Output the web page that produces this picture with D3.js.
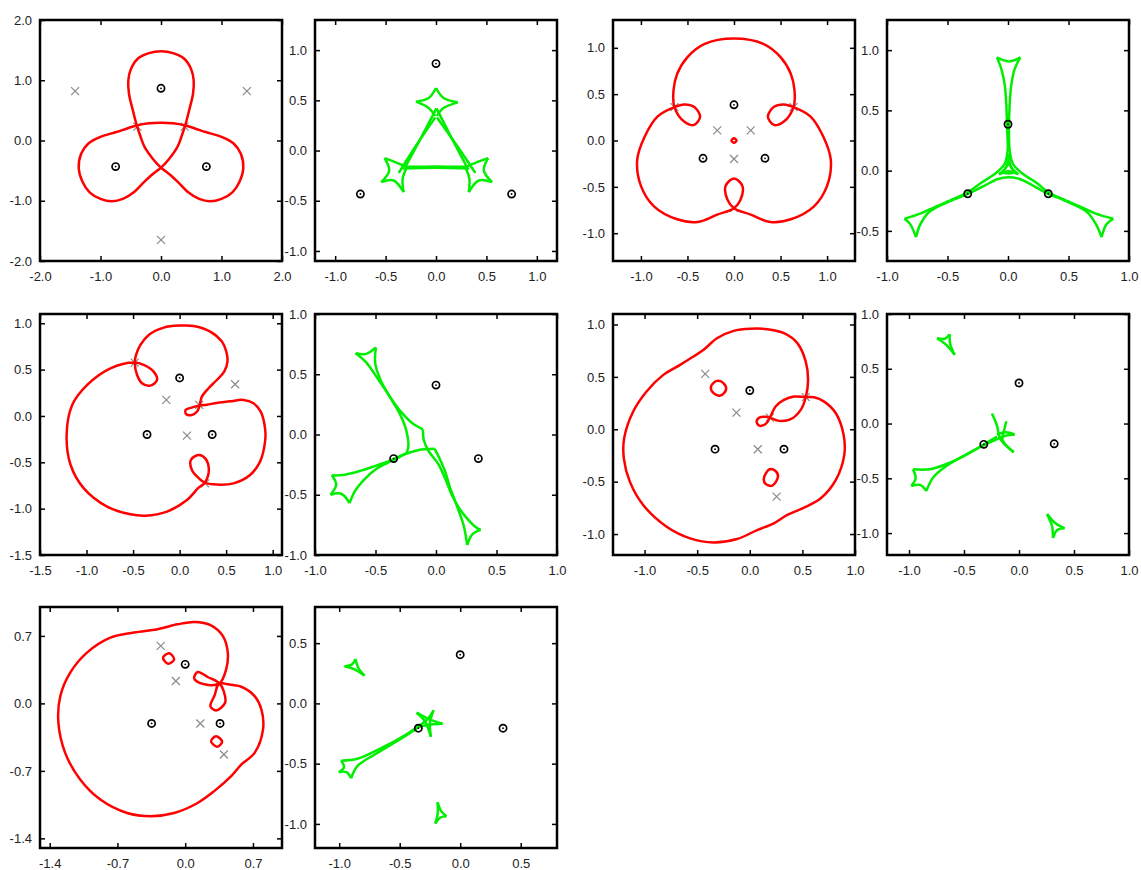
<!DOCTYPE html>
<html>
<head>
<meta charset="utf-8">
<title>Triple lens: critical curves and caustics</title>
<script src="https://d3js.org/d3.v7.min.js"></script>
<style>
  body { margin: 0; background: #fff; }
</style>
</head>
<body>
<script>
// tick values
var ticksWide = [-2, -1, 0, 1, 2];
var ticksHalf = [-1, -0.5, 0, 0.5, 1];
var ticksFrom15 = [-1.5, -1, -0.5, 0, 0.5, 1];
var ticksUpper = [-0.5, 0, 0.5, 1];
var ticksSeven = [-1.4, -0.7, 0, 0.7];
var ticksLower = [-1, -0.5, 0, 0.5];

// ---- row 1, config A ----
var p1Lenses = [[0, 0.866], [-0.75, -0.433], [0.75, -0.433]];
var p1Crosses = [[-1.42, 0.82], [1.42, 0.82], [0, -1.65], [-0.39, 0.23], [0.39, 0.23], [0, -0.45]];
var p1Critical = [[
  [0, 1.48], [0.2, 1.45], [0.38, 1.36], [0.5, 1.18], [0.54, 1.0], [0.53, 0.78], [0.47, 0.52], [0.4, 0.25],
  [0.34, 0.07], [0.27, -0.11], [0.13, -0.31], [0, -0.45], [-0.14, -0.56], [-0.28, -0.69], [-0.45, -0.86],
  [-0.63, -0.97], [-0.81, -1.01], [-1.0, -0.97], [-1.18, -0.86], [-1.3, -0.68], [-1.36, -0.46], [-1.32, -0.22],
  [-1.2, -0.05], [-1.0, 0.06], [-0.74, 0.14], [-0.56, 0.2], [-0.4, 0.25], [-0.2, 0.285], [0, 0.295],
  [0.2, 0.285], [0.4, 0.25], [0.56, 0.2], [0.74, 0.14], [1.0, 0.06], [1.2, -0.05], [1.32, -0.22], [1.36, -0.46],
  [1.3, -0.68], [1.18, -0.86], [1.0, -0.97], [0.81, -1.01], [0.63, -0.97], [0.45, -0.86], [0.28, -0.69],
  [0.14, -0.56], [0, -0.45], [-0.13, -0.31], [-0.27, -0.11], [-0.34, 0.07], [-0.4, 0.25], [-0.47, 0.52],
  [-0.53, 0.78], [-0.54, 1.0], [-0.5, 1.18], [-0.38, 1.36], [-0.2, 1.45]
]];
var p2Lenses = [[0, 0.866], [-0.75, -0.433], [0.75, -0.433]];
var p2Caustic = [
  [[0, 0.623], [-0.073, 0.523], [-0.199, 0.487]],
  [[0, 0.623], [0.076, 0.523], [0.215, 0.48]],
  [[-0.199, 0.487], [-0.073, 0.424], [-0.007, 0.345]],
  [[0.215, 0.48], [0.07, 0.42], [0.01, 0.345]],
  [[0.005, 0.42], [-0.15, 0.125], [-0.305, -0.166]],
  [[-0.007, 0.33], [-0.19, 0.06], [-0.37, -0.222]],
  [[0.005, 0.42], [0.155, 0.125], [0.308, -0.166]],
  [[0.01, 0.33], [0.2, 0.06], [0.39, -0.222]],
  [[-0.305, -0.162], [0, -0.16], [0.308, -0.162]],
  [[-0.33, -0.178], [0, -0.172], [0.33, -0.178]],
  [[-0.51, -0.076], [-0.464, -0.199], [-0.543, -0.315]],
  [[-0.543, -0.315], [-0.42, -0.298], [-0.321, -0.414]],
  [[-0.321, -0.414], [-0.331, -0.281], [-0.288, -0.166]],
  [[-0.288, -0.166], [-0.404, -0.116], [-0.51, -0.076]],
  [[0.517, -0.076], [0.474, -0.199], [0.556, -0.315]],
  [[0.556, -0.315], [0.424, -0.298], [0.325, -0.414]],
  [[0.325, -0.414], [0.331, -0.281], [0.291, -0.166]],
  [[0.291, -0.166], [0.407, -0.116], [0.517, -0.076]]
];

// ---- row 1, config B ----
var p3Lenses = [[0, 0.385], [-0.333, -0.192], [0.333, -0.192]];
var p3Crosses = [[-0.18, 0.11], [0.18, 0.11], [0, -0.2], [-0.64, 0.36], [0.64, 0.36], [0, -0.73]];
var p3Critical = [[
  [-0.64, 0.36], [-0.65, 0.54], [-0.61, 0.72], [-0.5, 0.9], [-0.32, 1.04], [0, 1.1], [0.32, 1.04], [0.5, 0.9],
  [0.61, 0.72], [0.65, 0.54], [0.64, 0.36], [0.536, 0.204], [0.43, 0.168], [0.364, 0.257], [0.43, 0.364],
  [0.536, 0.389], [0.64, 0.36], [0.82, 0.26], [0.96, 0.04], [1.04, -0.21], [1.0, -0.49], [0.86, -0.71],
  [0.61, -0.85], [0.39, -0.88], [0.18, -0.8], [0, -0.73], [-0.07, -0.64], [-0.09, -0.49], [0, -0.41],
  [0.09, -0.49], [0.07, -0.64], [0, -0.73], [-0.18, -0.8], [-0.39, -0.88], [-0.61, -0.85], [-0.86, -0.71],
  [-1.0, -0.49], [-1.04, -0.21], [-0.96, 0.04], [-0.82, 0.26], [-0.64, 0.36], [-0.536, 0.389], [-0.43, 0.364],
  [-0.364, 0.257], [-0.43, 0.168], [-0.536, 0.204]
], [
  [0, 0.025], [0.027, 0], [0, -0.025], [-0.027, 0]
]];
var p4Lenses = [[0, 0.385], [-0.333, -0.192], [0.333, -0.192]];
var p4Caustic = [
  [[-0.091, 0.939], [0.006, 0.906], [0.102, 0.939]],
  [[0.102, 0.939], [0.055, 0.843], [0.028, 0.718], [0.014, 0.552], [0.008, 0.359], [0.014, 0.166], [0.041, 0.055],
   [0.124, -0.028], [0.235, -0.1], [0.337, -0.182], [0.45, -0.235], [0.6, -0.3], [0.72, -0.355], [0.87, -0.4]],
  [[0.87, -0.4], [0.815, -0.442], [0.773, -0.552]],
  [[0.773, -0.552], [0.73, -0.45], [0.66, -0.35], [0.6, -0.31], [0.45, -0.24], [0.337, -0.195], [0.207, -0.124],
   [0.097, -0.069], [0.006, -0.055], [-0.083, -0.069], [-0.193, -0.124], [-0.337, -0.195], [-0.45, -0.24],
   [-0.6, -0.31], [-0.66, -0.35], [-0.727, -0.45], [-0.76, -0.552]],
  [[-0.76, -0.552], [-0.81, -0.442], [-0.856, -0.4]],
  [[-0.856, -0.4], [-0.72, -0.355], [-0.6, -0.3], [-0.45, -0.235], [-0.337, -0.182], [-0.221, -0.1], [-0.11, -0.028],
   [-0.028, 0.055], [-0.003, 0.166], [-0.008, 0.359], [-0.014, 0.552], [-0.028, 0.718], [-0.055, 0.843], [-0.091, 0.939]],
  [[0.006, 0.14], [-0.015, 0.03], [-0.075, -0.03]],
  [[-0.075, -0.03], [0.006, -0.005], [0.085, -0.03]],
  [[0.085, -0.03], [0.025, 0.03], [0.006, 0.14]],
  [[0.006, 0.06], [-0.035, -0.015], [0.045, -0.015], [0.006, 0.06]]
];

// ---- row 2, config C ----
var p5Lenses = [[0, 0.41], [-0.35, -0.2], [0.35, -0.2]];
var p5Crosses = [[-0.482, 0.576], [-0.143, 0.173], [0.596, 0.342], [0.211, 0.119], [0.079, -0.212], [0.275, -0.727]];
var p5Critical = [[
  [-0.482, 0.576], [-0.743, 0.514], [-0.993, 0.335], [-1.154, 0.119], [-1.214, -0.205], [-1.171, -0.529],
  [-1.029, -0.781], [-0.779, -0.978], [-0.529, -1.061], [-0.368, -1.076], [-0.136, -1.032], [0.079, -0.906],
  [0.204, -0.773], [0.27, -0.72], [0.314, -0.583], [0.275, -0.457], [0.204, -0.421], [0.121, -0.475],
  [0.132, -0.583], [0.21, -0.675], [0.27, -0.72], [0.4, -0.74], [0.579, -0.727], [0.757, -0.637],
  [0.864, -0.493], [0.918, -0.277], [0.918, -0.133], [0.871, 0.047], [0.793, 0.137], [0.686, 0.173],
  [0.543, 0.158], [0.4, 0.14], [0.293, 0.122], [0.214, 0.112], [0.13, 0.09], [0.065, 0.065], [0.07, 0.02],
  [0.13, 0.01], [0.19, 0.05], [0.214, 0.112], [0.239, 0.209], [0.311, 0.299], [0.4, 0.388], [0.479, 0.478],
  [0.514, 0.586], [0.5, 0.7], [0.454, 0.802], [0.329, 0.91], [0.15, 0.971], [0, 0.975], [-0.171, 0.953],
  [-0.332, 0.874], [-0.421, 0.766], [-0.468, 0.658], [-0.482, 0.576], [-0.457, 0.442], [-0.404, 0.353],
  [-0.314, 0.327], [-0.243, 0.388], [-0.279, 0.478], [-0.386, 0.55]
]];
var p6Lenses = [[0, 0.41], [-0.35, -0.2], [0.35, -0.2]];
var p6Caustic = [
  [[-0.664, 0.675], [-0.583, 0.667], [-0.497, 0.722]],
  [[-0.664, 0.675], [-0.575, 0.597], [-0.478, 0.458], [-0.394, 0.333], [-0.353, 0.264], [-0.297, 0.167],
   [-0.256, 0.069], [-0.233, -0.028], [-0.228, -0.097], [-0.242, -0.153]],
  [[-0.242, -0.153], [-0.3, -0.185], [-0.4, -0.235], [-0.5, -0.29], [-0.6, -0.38], [-0.67, -0.47], [-0.714, -0.569]],
  [[-0.714, -0.569], [-0.783, -0.492], [-0.872, -0.5]],
  [[-0.872, -0.5], [-0.825, -0.417], [-0.861, -0.339]],
  [[-0.861, -0.339], [-0.76, -0.335], [-0.62, -0.3], [-0.5, -0.26], [-0.4, -0.225], [-0.3, -0.18],
   [-0.15, -0.13], [-0.011, -0.119]],
  [[-0.011, -0.119], [0.03, -0.2], [0.08, -0.32], [0.115, -0.44], [0.15, -0.53], [0.19, -0.64], [0.23, -0.76], [0.258, -0.917]],
  [[0.258, -0.917], [0.3, -0.828], [0.369, -0.792]],
  [[0.369, -0.792], [0.33, -0.77], [0.26, -0.7], [0.19, -0.61], [0.13, -0.5], [0.09, -0.4], [0.022, -0.25],
   [-0.06, -0.139], [-0.1, -0.05], [-0.108, 0.042]],
  [[-0.108, 0.042], [-0.2, 0.097], [-0.283, 0.181], [-0.347, 0.264], [-0.394, 0.333], [-0.461, 0.458],
   [-0.503, 0.597], [-0.497, 0.722]]
];

// ---- row 2, config D ----
var p7Lenses = [[0, 0.37], [-0.33, -0.19], [0.325, -0.19]];
var p7Crosses = [[-0.424, 0.529], [-0.127, 0.159], [0.076, -0.191], [0.255, -0.643], [0.532, 0.306], [0.191, 0.111]];
var p7Critical = [[
  [0.532, 0.306], [0.554, 0.471], [0.532, 0.646], [0.452, 0.822], [0.325, 0.917], [0.166, 0.955], [0.006, 0.959],
  [-0.153, 0.939], [-0.312, 0.869], [-0.439, 0.758], [-0.535, 0.694], [-0.662, 0.615], [-0.822, 0.519],
  [-0.981, 0.36], [-1.108, 0.169], [-1.194, -0.086], [-1.197, -0.277], [-1.14, -0.5], [-1.013, -0.723],
  [-0.79, -0.93], [-0.567, -1.041], [-0.344, -1.08], [-0.121, -1.048], [0.07, -0.962], [0.229, -0.898],
  [0.357, -0.818], [0.516, -0.748], [0.675, -0.659], [0.818, -0.484], [0.898, -0.245], [0.892, -0.054],
  [0.818, 0.153], [0.707, 0.264], [0.611, 0.305], [0.532, 0.306], [0.42, 0.312], [0.325, 0.28], [0.245, 0.217],
  [0.191, 0.111], [0.15, 0.05], [0.09, 0.035], [0.065, 0.075], [0.1, 0.115], [0.15, 0.12], [0.191, 0.111],
  [0.277, 0.08], [0.389, 0.096], [0.484, 0.185]
], [
  [-0.312, 0.462], [-0.248, 0.439], [-0.226, 0.376], [-0.28, 0.322], [-0.344, 0.344], [-0.369, 0.408]
], [
  [0.188, -0.382], [0.245, -0.398], [0.268, -0.452], [0.213, -0.538], [0.15, -0.522], [0.134, -0.468]
]];
var p8Lenses = [[0, 0.37], [-0.32, -0.19], [0.32, -0.185]];
var p8Caustic = [
  [[-0.745, 0.779], [-0.674, 0.774], [-0.63, 0.815]],
  [[-0.63, 0.815], [-0.626, 0.729], [-0.585, 0.627]],
  [[-0.585, 0.627], [-0.661, 0.718], [-0.745, 0.779]],
  [[0.255, -0.827], [0.332, -0.911], [0.415, -0.955]],
  [[0.415, -0.955], [0.348, -0.972], [0.309, -1.045]],
  [[0.309, -1.045], [0.3, -0.936], [0.255, -0.827]],
  [[-0.246, 0.091], [-0.2, -0.02], [-0.17, -0.14], [-0.048, -0.262]],
  [[-0.115, 0.021], [-0.135, -0.06], [-0.15, -0.15], [-0.048, -0.262]],
  [[-0.2, -0.1], [-0.12, -0.08], [-0.04, -0.1]],
  [[-0.19, -0.14], [-0.12, -0.11], [-0.04, -0.1]],
  [[-0.964, -0.418], [-0.812, -0.418], [-0.63, -0.358], [-0.448, -0.267], [-0.321, -0.191], [-0.2, -0.12]],
  [[-0.842, -0.615], [-0.782, -0.494], [-0.661, -0.388], [-0.479, -0.282], [-0.321, -0.197], [-0.19, -0.14]],
  [[-0.964, -0.418], [-0.94, -0.5], [-0.979, -0.57]],
  [[-0.979, -0.57], [-0.9, -0.56], [-0.842, -0.615]]
];

// ---- row 3, config E ----
var p9Lenses = [[0, 0.405], [-0.347, -0.208], [0.36, -0.208]];
var p9Crosses = [[-0.253, 0.596], [-0.097, 0.232], [0.156, -0.208], [0.4, -0.53], [0.353, 0.208]];
var p9Critical = [[
  [0.353, 0.208], [0.423, 0.353], [0.44, 0.527], [0.388, 0.7], [0.267, 0.81], [0.094, 0.845], [-0.08, 0.82],
  [-0.287, 0.77], [-0.53, 0.735], [-0.773, 0.683], [-1.015, 0.527], [-1.188, 0.319], [-1.29, 0.076],
  [-1.31, -0.2], [-1.24, -0.513], [-1.085, -0.79], [-0.877, -0.998], [-0.6, -1.137], [-0.357, -1.17],
  [-0.114, -1.137], [0.128, -1.033], [0.3, -0.91], [0.475, -0.755], [0.579, -0.634], [0.717, -0.513],
  [0.804, -0.27], [0.787, -0.062], [0.717, 0.076], [0.579, 0.173], [0.44, 0.198], [0.353, 0.208],
  [0.301, 0.076], [0.26, -0.028], [0.319, -0.073], [0.412, 0.007], [0.398, 0.128], [0.353, 0.208],
  [0.232, 0.274], [0.128, 0.326], [0.094, 0.256], [0.197, 0.198]
], [
  [-0.166, 0.52], [-0.114, 0.457], [-0.177, 0.412], [-0.229, 0.475]
], [
  [0.319, -0.34], [0.381, -0.398], [0.329, -0.45], [0.267, -0.392]
]];
var p10Lenses = [[0, 0.404], [-0.346, -0.206], [0.354, -0.206]];
var p10Caustic = [
  [[-0.956, 0.308], [-0.894, 0.324], [-0.865, 0.368]],
  [[-0.865, 0.368], [-0.845, 0.3], [-0.791, 0.231]],
  [[-0.791, 0.231], [-0.873, 0.283], [-0.956, 0.308]],
  [[-0.187, -0.819], [-0.157, -0.894], [-0.113, -0.937]],
  [[-0.113, -0.937], [-0.163, -0.947], [-0.206, -0.997]],
  [[-0.206, -0.997], [-0.186, -0.912], [-0.187, -0.819]],
  [[-0.36, -0.077], [-0.29, -0.15], [-0.242, -0.277]],
  [[-0.22, -0.058], [-0.25, -0.16], [-0.242, -0.277]],
  [[-0.22, -0.058], [-0.27, -0.13], [-0.36, -0.2]],
  [[-0.36, -0.077], [-0.26, -0.13], [-0.146, -0.168]],
  [[-0.36, -0.2], [-0.25, -0.175], [-0.146, -0.168]],
  [[-0.984, -0.475], [-0.85, -0.46], [-0.65, -0.37], [-0.45, -0.26], [-0.36, -0.2]],
  [[-0.901, -0.621], [-0.85, -0.52], [-0.7, -0.42], [-0.5, -0.3], [-0.36, -0.21]],
  [[-0.984, -0.475], [-0.96, -0.53], [-1.003, -0.571]],
  [[-1.003, -0.571], [-0.94, -0.57], [-0.901, -0.621]]
];

// panel layout
var W = 242, H = 241;
var panels = [
  {left: 40, top: 20, xDom: [-2, 2], yDom: [-2, 2], xTicks: ticksWide, yTicks: ticksWide,
   lenses: p1Lenses, crosses: p1Crosses, closed: p1Critical},
  {left: 315, top: 20, xDom: [-1.2, 1.2], yDom: [-1.1, 1.3], xTicks: ticksHalf, yTicks: ticksHalf,
   lenses: p2Lenses, open: p2Caustic},
  {left: 613, top: 20, xDom: [-1.3, 1.3], yDom: [-1.3, 1.3], xTicks: ticksHalf, yTicks: ticksHalf,
   lenses: p3Lenses, crosses: p3Crosses, closed: p3Critical},
  {left: 887, top: 20, xDom: [-1, 1], yDom: [-0.75, 1.25], xTicks: ticksHalf, yTicks: ticksUpper,
   lenses: p4Lenses, open: p4Caustic},
  {left: 40, top: 314, xDom: [-1.5, 1.1], yDom: [-1.5, 1.1], xTicks: ticksFrom15, yTicks: ticksFrom15,
   lenses: p5Lenses, crosses: p5Crosses, closed: p5Critical},
  {left: 315, top: 314, xDom: [-1, 1], yDom: [-1, 1], xTicks: ticksHalf, yTicks: ticksHalf,
   lenses: p6Lenses, open: p6Caustic},
  {left: 613, top: 314, xDom: [-1.3, 1.0], yDom: [-1.2, 1.1], xTicks: ticksHalf, yTicks: ticksHalf,
   lenses: p7Lenses, crosses: p7Crosses, closed: p7Critical},
  {left: 887, top: 314, xDom: [-1.2, 1.0], yDom: [-1.2, 1.0], xTicks: ticksHalf, yTicks: ticksHalf,
   lenses: p8Lenses, open: p8Caustic},
  {left: 40, top: 607, xDom: [-1.5, 1.0], yDom: [-1.5, 1.0], xTicks: ticksSeven, yTicks: ticksSeven,
   lenses: p9Lenses, crosses: p9Crosses, closed: p9Critical},
  {left: 315, top: 607, xDom: [-1.2, 0.8], yDom: [-1.2, 0.8], xTicks: ticksLower, yTicks: ticksLower,
   lenses: p10Lenses, open: p10Caustic}
];

var svg = d3.select("body").append("svg")
  .attr("width", 1141)
  .attr("height", 870);

var fmt = function(d) { return d.toFixed(1); };

panels.forEach(function(p, i) {
  var g = svg.append("g").attr("transform", "translate(" + p.left + "," + p.top + ")");
  var x = d3.scaleLinear().domain(p.xDom).range([0, W]);
  var y = d3.scaleLinear().domain(p.yDom).range([H, 0]);

  svg.append("clipPath").attr("id", "clip" + i)
    .append("rect").attr("width", W).attr("height", H);
  var plot = g.append("g").attr("clip-path", "url(#clip" + i + ")");

  // saddle points (grey crosses)
  if (p.crosses) {
    plot.selectAll(".cross").data(p.crosses).enter().append("path")
      .attr("class", "cross")
      .attr("d", function(d) {
        var cx = x(d[0]), cy = y(d[1]);
        return "M" + (cx - 4) + "," + (cy - 4) + "L" + (cx + 4) + "," + (cy + 4) +
               "M" + (cx - 4) + "," + (cy + 4) + "L" + (cx + 4) + "," + (cy - 4);
      })
      .attr("stroke", "#8a8a8a")
      .attr("stroke-width", 1.2);
  }

  // critical curves (closed, red)
  if (p.closed) {
    var lineC = d3.line().x(function(d) { return x(d[0]); }).y(function(d) { return y(d[1]); })
      .curve(d3.curveCatmullRomClosed.alpha(0.5));
    plot.selectAll(".crit").data(p.closed).enter().append("path")
      .attr("class", "crit")
      .attr("d", lineC)
      .attr("fill", "none")
      .attr("stroke", "#ff0000")
      .attr("stroke-width", 2.5);
  }

  // caustics (open arcs between cusps, green)
  if (p.open) {
    var lineO = d3.line().x(function(d) { return x(d[0]); }).y(function(d) { return y(d[1]); })
      .curve(d3.curveCatmullRom.alpha(0.5));
    plot.selectAll(".caus").data(p.open).enter().append("path")
      .attr("class", "caus")
      .attr("d", lineO)
      .attr("fill", "none")
      .attr("stroke", "#00ee00")
      .attr("stroke-width", 2.5)
      .attr("stroke-linejoin", "round");
  }

  // lens positions
  plot.selectAll(".lens").data(p.lenses).enter().append("circle")
    .attr("cx", function(d) { return x(d[0]); })
    .attr("cy", function(d) { return y(d[1]); })
    .attr("r", 3.6)
    .attr("fill", "none")
    .attr("stroke", "#000")
    .attr("stroke-width", 1.7);
  plot.selectAll(".dot").data(p.lenses).enter().append("circle")
    .attr("cx", function(d) { return x(d[0]); })
    .attr("cy", function(d) { return y(d[1]); })
    .attr("r", 0.9)
    .attr("fill", "#000");

  // axes with inward ticks on all four sides
  var axes = [
    g.append("g").attr("transform", "translate(0," + H + ")")
      .call(d3.axisBottom(x).tickValues(p.xTicks).tickFormat(fmt).tickSizeInner(-5).tickSizeOuter(0).tickPadding(11)),
    g.append("g")
      .call(d3.axisTop(x).tickValues(p.xTicks).tickFormat("").tickSizeInner(-5).tickSizeOuter(0)),
    g.append("g")
      .call(d3.axisLeft(y).tickValues(p.yTicks).tickFormat(fmt).tickSizeInner(-5).tickSizeOuter(0).tickPadding(8)),
    g.append("g").attr("transform", "translate(" + W + ",0)")
      .call(d3.axisRight(y).tickValues(p.yTicks).tickFormat("").tickSizeInner(-5).tickSizeOuter(0))
  ];
  axes.forEach(function(a) {
    a.select(".domain").remove();
    a.selectAll("line").attr("stroke", "#000").attr("stroke-width", 1.5);
    a.selectAll("text")
      .attr("font-family", "'Liberation Sans', Arial, sans-serif")
      .attr("font-size", 13)
      .attr("fill", "#222");
  });

  // frame
  g.append("rect")
    .attr("width", W).attr("height", H)
    .attr("fill", "none")
    .attr("stroke", "#000")
    .attr("stroke-width", 2.5);
});
</script>
</body>
</html>
